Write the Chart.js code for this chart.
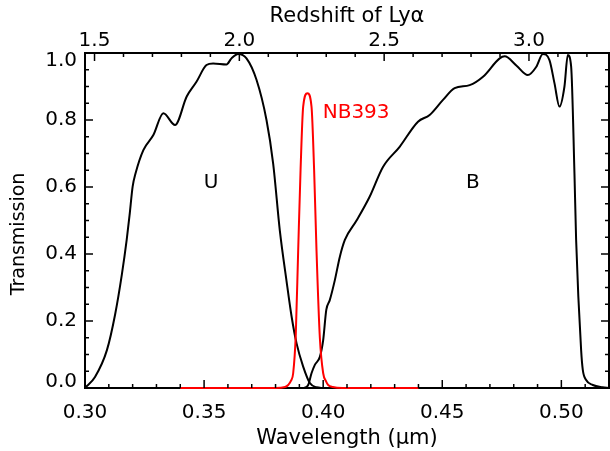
<!DOCTYPE html>
<html>
<head>
<meta charset="utf-8">
<script src="https://cdn.jsdelivr.net/npm/chart.js@4.4.1/dist/chart.umd.min.js"></script>
<style>
  html, body { margin: 0; padding: 0; background: #fff; }
  #grafico { display: block; }
</style>
</head>
<body>
<canvas id="grafico" width="610" height="451"></canvas>
<script>
// U filter curve (wavelength in micron, transmission)
const uWave = [0.300, 0.3042, 0.3092, 0.3126, 0.3155, 0.3175, 0.3187, 0.3200, 0.3212, 0.3245, 0.3287,
  0.3329, 0.3378, 0.3427, 0.3468, 0.3510, 0.3538, 0.3594, 0.3615, 0.3643, 0.3678, 0.3720, 0.3762,
  0.3790, 0.3818, 0.3846, 0.3867, 0.3888, 0.3916, 0.3944, 0.3972, 0.400];
const uTrans = [0.0, 0.033, 0.113, 0.218, 0.34, 0.442, 0.515, 0.601, 0.64, 0.71, 0.755,
  0.82, 0.785, 0.87, 0.914, 0.964, 0.969, 0.966, 0.984, 0.997, 0.984, 0.92, 0.80,
  0.67, 0.47, 0.32, 0.215, 0.134, 0.064, 0.015, 0.002, 0.0];

// B filter curve
const bWave = [0.392, 0.3937, 0.3951, 0.3965, 0.3986, 0.4000, 0.4013, 0.4028, 0.4049, 0.4070, 0.4091,
  0.4140, 0.4195, 0.4251, 0.4321, 0.4398, 0.4447, 0.4503, 0.4552, 0.4615, 0.4671, 0.4741, 0.4762,
  0.4812, 0.4859, 0.4895, 0.4922, 0.4950, 0.4971, 0.4992, 0.5013, 0.5027, 0.5041, 0.5055, 0.5062,
  0.5083, 0.5090, 0.5104, 0.5132, 0.5173, 0.520];
const bTrans = [0.0, 0.009, 0.044, 0.069, 0.093, 0.143, 0.233, 0.263, 0.322, 0.392, 0.442,
  0.50, 0.571, 0.66, 0.72, 0.795, 0.815, 0.86, 0.895, 0.904, 0.929, 0.984, 0.99,
  0.962, 0.934, 0.959, 0.997, 0.979, 0.91, 0.84, 0.90, 0.994, 0.96, 0.64, 0.442,
  0.113, 0.054, 0.024, 0.009, 0.002, 0.0];

// NB393 narrow band filter
const nbWave = [0.340, 0.380, 0.384, 0.3853, 0.3865, 0.3874, 0.3885, 0.3895, 0.3905, 0.3916, 0.3934,
  0.3951, 0.3962, 0.3972, 0.3986, 0.4000, 0.4012, 0.4021, 0.404, 0.408, 0.440];
const nbTrans = [0.0, 0.0, 0.003, 0.009, 0.022, 0.044, 0.16, 0.41, 0.65, 0.84, 0.88,
  0.84, 0.65, 0.41, 0.15, 0.044, 0.02, 0.009, 0.003, 0.0, 0.0];

// axes
const lambdaLya = 0.1216;
const xMin = 0.30, xMax = 0.52;
const wavelengthLabels = [0.30, 0.35, 0.40, 0.45, 0.50];
const redshiftLabels = [1.5, 2.0, 2.5, 3.0];
const transmissionLabels = [0.0, 0.2, 0.4, 0.6, 0.8, 1.0];

// text labels on the plot
const notas = [
  { text: 'U', x: 0.3529, y: 0.612, color: '#000', align: 'center' },
  { text: 'B', x: 0.4628, y: 0.612, color: '#000', align: 'center' },
  { text: 'NB393', x: 0.3998, y: 0.822, color: '#ff0000', align: 'left' }
];

const fonte = 'DejaVu Sans';

function pontos(xs, ys) {
  return xs.map((x, i) => ({ x: x, y: ys[i] }));
}

function ehMarcado(v, lista) {
  return lista.some((l) => Math.abs(l - v) < 1e-6);
}

// fixed box size, and no extra padding from tick labels
function fixarTamanho(prop, valor) {
  return (scale) => {
    scale[prop] = valor;
    scale.paddingLeft = 0;
    scale.paddingRight = 0;
    scale.paddingTop = 0;
    scale.paddingBottom = 0;
  };
}

// end labels of the y axis sit inside the frame, as in IDL
function rotuloY(v) {
  if (!ehMarcado(v, transmissionLabels)) return '';
  const s = v.toFixed(1);
  if (Math.abs(v - 1) < 1e-6) return ['', s];
  if (Math.abs(v) < 1e-6) return [s, ''];
  return s;
}

function fonteY(ctx) {
  const v = ctx.tick ? ctx.tick.value : 0.5;
  let lh = 1.2;
  if (Math.abs(v - 1) < 1e-6) lh = '16px';
  if (Math.abs(v) < 1e-6) lh = '12px';
  return { family: fonte, size: 20, lineHeight: lh };
}

// inward ticks on all four sides, like the original plot
const ticksParaDentro = {
  id: 'ticksParaDentro',
  afterDraw(chart) {
    const { ctx, chartArea, scales } = chart;
    ctx.save();
    ctx.strokeStyle = '#000';
    ctx.lineWidth = 1.5;

    const desenha = (x1, y1, x2, y2) => {
      ctx.beginPath();
      ctx.moveTo(x1, y1);
      ctx.lineTo(x2, y2);
      ctx.stroke();
    };

    scales.x.ticks.forEach((t) => {
      const v = t.value;
      if (Math.abs(v * 100 - Math.round(v * 100)) > 1e-6) return;
      const px = scales.x.getPixelForValue(v);
      const len = ehMarcado(v, wavelengthLabels) ? 8 : 4;
      desenha(px, chartArea.bottom, px, chartArea.bottom - len);
    });

    scales.x2.ticks.forEach((t) => {
      const v = t.value;
      if (Math.abs(v * 10 - Math.round(v * 10)) > 1e-6) return;
      const px = scales.x2.getPixelForValue(v);
      const len = ehMarcado(v, redshiftLabels) ? 8 : 4;
      desenha(px, chartArea.top, px, chartArea.top + len);
    });

    scales.y.ticks.forEach((t) => {
      const v = t.value;
      const py = scales.y.getPixelForValue(v);
      const len = ehMarcado(v, transmissionLabels) ? 8 : 4;
      desenha(chartArea.left, py, chartArea.left + len, py);
      desenha(chartArea.right, py, chartArea.right - len, py);
    });

    // filter names
    ctx.font = '20px "' + fonte + '"';
    ctx.textBaseline = 'middle';
    notas.forEach((n) => {
      ctx.fillStyle = n.color;
      ctx.textAlign = n.align;
      ctx.fillText(n.text, scales.x.getPixelForValue(n.x), scales.y.getPixelForValue(n.y));
    });

    // y axis title
    ctx.fillStyle = '#000';
    ctx.font = '19px "' + fonte + '"';
    ctx.textAlign = 'center';
    ctx.translate(19, 234);
    ctx.rotate(-Math.PI / 2);
    ctx.fillText('Transmission', 0, 0);
    ctx.restore();
  }
};

const linhaComum = {
  pointRadius: 0,
  borderWidth: 2,
  cubicInterpolationMode: 'monotone',
  fill: false,
  clip: false
};

new Chart(document.getElementById('grafico'), {
  type: 'line',
  data: {
    datasets: [
      { ...linhaComum, label: 'U', data: pontos(uWave, uTrans), borderColor: '#000', order: 1 },
      { ...linhaComum, label: 'B', data: pontos(bWave, bTrans), borderColor: '#000', order: 1 },
      { ...linhaComum, label: 'NB393', data: pontos(nbWave, nbTrans), borderColor: '#ff0000', order: 0 }
    ]
  },
  options: {
    responsive: false,
    animation: false,
    devicePixelRatio: 1,
    layout: { padding: 0, autoPadding: false },
    plugins: {
      legend: { display: false },
      tooltip: { enabled: false }
    },
    scales: {
      x: {
        type: 'linear',
        position: 'bottom',
        min: xMin,
        max: xMax,
        afterFit: fixarTamanho('height', 63),
        border: { display: true, color: '#000', width: 2 },
        grid: { display: true, drawOnChartArea: false, drawTicks: false },
        ticks: {
          stepSize: 0.01,
          autoSkip: false,
          includeBounds: false,
          maxRotation: 0,
          padding: 13,
          color: '#000',
          font: { family: fonte, size: 20 },
          callback: (v) => ehMarcado(v, wavelengthLabels) ? v.toFixed(2) : ''
        },
        title: {
          display: true,
          text: 'Wavelength (\u03bcm)',
          color: '#000',
          font: { family: fonte, size: 21 },
          padding: { top: 0, bottom: 0 }
        }
      },
      x2: {
        type: 'linear',
        position: 'top',
        min: xMin / lambdaLya - 1,
        max: xMax / lambdaLya - 1,
        afterFit: fixarTamanho('height', 53),
        border: { display: true, color: '#000', width: 2 },
        grid: { display: true, drawOnChartArea: false, drawTicks: false },
        ticks: {
          stepSize: 0.1,
          autoSkip: false,
          includeBounds: false,
          maxRotation: 0,
          padding: 0,
          color: '#000',
          font: { family: fonte, size: 20 },
          callback: (v) => ehMarcado(v, redshiftLabels) ? v.toFixed(1) : ''
        },
        title: {
          display: true,
          text: 'Redshift of Ly\u03b1',
          color: '#000',
          font: { family: fonte, size: 21 },
          padding: { top: 4, bottom: 0 }
        }
      },
      y: {
        type: 'linear',
        position: 'left',
        min: 0,
        max: 1,
        afterFit: fixarTamanho('width', 85),
        border: { display: true, color: '#000', width: 2 },
        grid: { display: true, drawOnChartArea: false, drawTicks: false },
        ticks: {
          stepSize: 0.05,
          autoSkip: false,
          padding: 8,
          color: '#000',
          font: fonteY,
          callback: rotuloY
        }
      },
      y2: {
        type: 'linear',
        position: 'right',
        min: 0,
        max: 1,
        afterFit: fixarTamanho('width', 1),
        border: { display: true, color: '#000', width: 2 },
        grid: { display: true, drawOnChartArea: false, drawTicks: false },
        ticks: { display: false }
      }
    }
  },
  plugins: [ticksParaDentro]
});
</script>
</body>
</html>
